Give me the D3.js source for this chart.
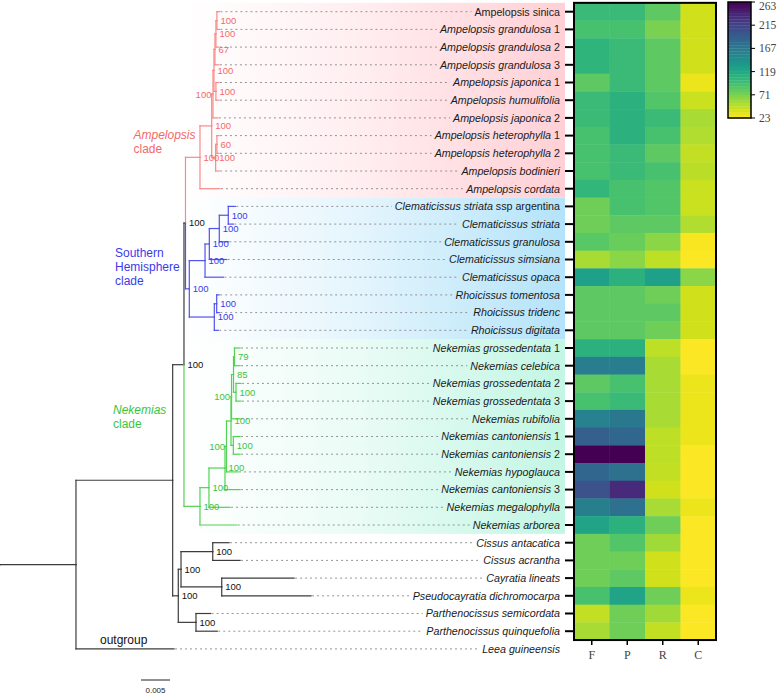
<!DOCTYPE html>
<html><head><meta charset="utf-8">
<script src="https://cdn.jsdelivr.net/npm/d3@7"></script>
<style>body{margin:0;background:#fff}</style>
</head><body>
<svg id="c" width="777" height="694"></svg>
<script>
// ---------------- DATA ----------------
const taxa = [
 "Ampelopsis sinica","Ampelopsis grandulosa 1","Ampelopsis grandulosa 2","Ampelopsis grandulosa 3",
 "Ampelopsis japonica 1","Ampelopsis humulifolia","Ampelopsis japonica 2","Ampelopsis heterophylla 1",
 "Ampelopsis heterophylla 2","Ampelopsis bodinieri","Ampelopsis cordata",
 "Clematicissus striata ssp argentina","Clematicissus striata","Clematicissus granulosa",
 "Clematicissus simsiana","Clematicissus opaca","Rhoicissus tomentosa","Rhoicissus tridenc","Rhoicissus digitata",
 "Nekemias grossedentata 1","Nekemias celebica","Nekemias grossedentata 2","Nekemias grossedentata 3",
 "Nekemias rubifolia","Nekemias cantoniensis 1","Nekemias cantoniensis 2","Nekemias hypoglauca",
 "Nekemias cantoniensis 3","Nekemias megalophylla","Nekemias arborea",
 "Cissus antacatica","Cissus acrantha","Cayratia lineats","Pseudocayratia dichromocarpa",
 "Parthenocissus semicordata","Parthenocissus quinquefolia","Leea guineensis"
];
const plainTaxa = ["Ampelopsis sinica"];
const plainSuffix = ["ssp argentina"];

// tree: branch lengths in substitutions/site, internal labels = bootstrap ("L" = label drawn left of node)
const nwkAmp = "(((((((Ampelopsis sinica:0.00043,Ampelopsis grandulosa 1:0.00043)100:0.00017,Ampelopsis grandulosa 2:0.00052)100:0.00017,Ampelopsis grandulosa 3:0.00069)67:0.00017,(Ampelopsis japonica 1:0.00052,Ampelopsis humulifolia:0.00052)100:0.00034)100:0.00017,Ampelopsis japonica 2:0.00086)100L:0.00022,((Ampelopsis heterophylla 1:0.00035,Ampelopsis heterophylla 2:0.00035)60:0.00022,Ampelopsis bodinieri:0.0006)100:0.00068)100:0.00202,Ampelopsis cordata:0.00345)100:0.0025";
const nwkClem = "((((Clematicissus striata ssp argentina:0.00121,Clematicissus striata:0.00086)100:0.00155,Clematicissus granulosa:0.00155)100:0.00172,Clematicissus simsiana:0.003)100:0.00074,Clematicissus opaca:0.00316)100:0.00271";
const nwkRhoi = "((Rhoicissus tomentosa:0.00043,Rhoicissus tridenc:0.00043)100:0.00041,Rhoicissus digitata:0.00069)100:0.00431";
const nwkNek = "((((((((Nekemias grossedentata 1:0.00095,Nekemias celebica:0.00095)79:0.00017,(Nekemias grossedentata 2:0.00086,Nekemias grossedentata 3:0.00086)100:0.00043)85:0.00034,Nekemias rubifolia:0.00147)100L:0.00009,(Nekemias cantoniensis 1:0.00116,Nekemias cantoniensis 2:0.00116)100:0.0004)100:0.00078,Nekemias hypoglauca:0.00198)100L:0.00026,Nekemias cantoniensis 3:0.00259)100:0.00276,Nekemias megalophylla:0.00362)100:0.00155,Nekemias arborea:0.00633)100:0.00276";
const nwkOther = "(((Cissus antacatica:0.00281,Cissus acrantha:0.00471)100:0.00547,(Cayratia lineats:0.01247,Pseudocayratia dichromocarpa:0.0154)100:0.00702)100:0.00047,(Parthenocissus semicordata:0.00253,Parthenocissus quinquefolia:0.00367)100:0.00305)100:0.00097";
const newick = "(((((" + nwkAmp + ",(" + nwkClem + "," + nwkRhoi + ")100:0.00066)100:0.00026," + nwkNek + ")100:0.00195," + nwkOther + "):0.01667,Leea guineensis:0.0169):0.0131;";

const clades = [
  {key:"amp", first:"Ampelopsis sinica", last:"Ampelopsis cordata"},
  {key:"sh",  first:"Clematicissus striata ssp argentina", last:"Rhoicissus digitata"},
  {key:"nek", first:"Nekemias grossedentata 1", last:"Nekemias arborea"}
];

const heatCols = ["F","P","R","C"];
const valF = [100,93,107,107,83,100,100,93,93,93,105,76,76,85,54,128,83,83,83,110,162,83,93,157,191,263,184,203,160,124,76,76,76,93,45,54];
const valP = [100,93,100,100,100,110,110,110,100,100,93,93,83,78,65,110,83,83,83,110,162,93,100,167,184,263,174,234,174,110,88,76,83,124,76,76];
const valR = [83,71,83,83,83,88,100,93,83,93,88,88,83,65,47,128,76,83,76,47,54,54,54,54,47,47,45,40,54,76,57,40,40,76,57,45];
const valC = [40,40,40,40,30,42,54,52,45,48,42,42,52,25,24,65,40,40,40,24,24,30,30,30,30,24,24,24,30,24,24,24,24,30,24,24];
const colorDomain = [23, 263];
const colorTicks = [263, 215, 167, 119, 71, 23];
const scaleBarValue = 0.005;

// ---------------- STYLE ----------------
const cladeStyle = {
  amp: {line:"#f78a8a", text:"#f26a6a", band:"#ffd0d6"},
  sh:  {line:"#5252ee", text:"#3a3aec", band:"#b4e3f9"},
  nek: {line:"#52d252", text:"#3cc43c", band:"#c3f6e4"}
};
const baseLine = "#3c3c3c", baseText = "#111";
const FONT = "'Liberation Sans', Arial, Helvetica, sans-serif";
const SERIF = "'Liberation Serif', 'Times New Roman', serif";

// ---------------- PARSE ----------------
function parseNewick(s){
  let i = 0;
  function node(){
    const n = {children:[]};
    if (s[i] === '('){
      i++;
      n.children.push(node());
      while (s[i] === ','){ i++; n.children.push(node()); }
      i++;
    }
    let name = '';
    while (i < s.length && !',():;'.includes(s[i])) name += s[i++];
    n.name = name.trim();
    n.length = 0;
    if (s[i] === ':'){
      i++; let l = '';
      while (i < s.length && !',();'.includes(s[i])) l += s[i++];
      n.length = +l;
    }
    return n;
  }
  return node();
}
const root = d3.hierarchy(parseNewick(newick), d => d.children.length ? d.children : null);

// ---------------- SCALES ----------------
const svg = d3.select("#c");
const rowH = 17.7, top0 = 2.85;
const y = d3.scaleBand().domain(taxa).range([top0, top0 + rowH * taxa.length]).padding(0);
const bw = y.bandwidth();
const xs = d3.scaleLinear().domain([0, scaleBarValue]).range([0, 29]);
const labelRight = 560;

root.eachBefore(n => { n.dist = (n.parent ? n.parent.dist : 0) + n.data.length; });
root.eachAfter(n => {
  if (!n.children) n.yy = y(n.data.name) + bw / 2;
  else n.yy = (n.children[0].yy + n.children[n.children.length - 1].yy) / 2;
});
root.each(n => { n.xx = xs(n.dist); n.clade = null; });

const leafMap = new Map(root.leaves().map(l => [l.data.name, l]));
clades.forEach(c => {
  const a = leafMap.get(c.first), b = leafMap.get(c.last);
  const bAnc = new Set(b.ancestors());
  const mrca = a.ancestors().find(n => bAnc.has(n));
  c.node = mrca;
  mrca.each(n => n.clade = c.key);
});
const lineCol = n => n.clade ? cladeStyle[n.clade].line : baseLine;
const textCol = n => n.clade ? cladeStyle[n.clade].text : baseText;

// ---------------- BACKGROUND BANDS ----------------
const defs = svg.append("defs");
const gx0 = 185, gx1 = 565;
clades.forEach(c => {
  const g = defs.append("linearGradient").attr("id", "g_" + c.key)
    .attr("gradientUnits", "userSpaceOnUse").attr("x1", gx0).attr("x2", gx1).attr("y1", 0).attr("y2", 0);
  g.append("stop").attr("offset", 0).attr("stop-color", cladeStyle[c.key].band).attr("stop-opacity", 0);
  g.append("stop").attr("offset", 0.45).attr("stop-color", cladeStyle[c.key].band).attr("stop-opacity", 0.35);
  g.append("stop").attr("offset", 1).attr("stop-color", cladeStyle[c.key].band).attr("stop-opacity", 1);
  const y0 = y(c.first), y1 = y(c.last) + bw;
  svg.append("rect").attr("x", gx0).attr("y", y0).attr("width", gx1 - gx0).attr("height", y1 - y0)
    .attr("fill", "url(#g_" + c.key + ")");
});

// ---------------- TREE ----------------
const gT = svg.append("g").attr("fill", "none").attr("stroke-width", 1.2).attr("stroke-linecap", "square");
gT.append("line").attr("x1", xs(0)).attr("x2", root.xx).attr("y1", root.yy).attr("y2", root.yy).attr("stroke", "#555");
root.descendants().filter(n => n.parent).forEach(n => {
  const p = n.parent, col = lineCol(n);
  gT.append("line").attr("x1", p.xx).attr("x2", p.xx).attr("y1", p.yy).attr("y2", n.yy).attr("stroke", col);
  gT.append("line").attr("x1", p.xx).attr("x2", n.xx).attr("y1", n.yy).attr("y2", n.yy).attr("stroke", col);
});

// support labels
root.descendants().filter(n => n.children && n.data.name).forEach(n => {
  const left = n.data.name.endsWith("L");
  svg.append("text").text(n.data.name.replace("L", ""))
    .attr("x", left ? n.xx - 1.5 : n.xx + 3.5).attr("y", n.yy + 3.4)
    .attr("text-anchor", left ? "end" : "start")
    .attr("font-family", FONT).attr("font-size", 9.5).attr("fill", textCol(n));
});

// leaf labels + dotted connectors
root.leaves().forEach(l => {
  const name = l.data.name;
  const t = svg.append("text").attr("x", labelRight).attr("y", l.yy + 3.8)
    .attr("text-anchor", "end").attr("font-family", FONT).attr("font-size", 10.7).attr("fill", "#1a1a1a");
  if (plainTaxa.includes(name)) {
    t.append("tspan").text(name);
  } else {
    let ital = name, plain = "";
    const suf = plainSuffix.find(s => name.endsWith(" " + s));
    const m = name.match(/^(.*) (\d+)$/);
    if (suf) { ital = name.slice(0, name.length - suf.length - 1); plain = suf; }
    else if (m) { ital = m[1]; plain = m[2]; }
    t.append("tspan").attr("font-style", "italic").text(ital);
    if (plain) t.append("tspan").text("\u00a0" + plain);
  }
  const w = t.node().getComputedTextLength();
  svg.append("line").attr("x1", l.xx + 1).attr("x2", labelRight - w - 3)
    .attr("y1", l.yy).attr("y2", l.yy)
    .attr("stroke", "#8a8a8a").attr("stroke-width", 0.9).attr("stroke-dasharray", "2,3");
});

// clade labels
function cladeLabel(lines, x, yc, col) {
  lines.forEach((ln, i) => {
    svg.append("text").attr("x", x).attr("y", yc + i * 14 + 4.3)
      .attr("font-family", FONT).attr("font-size", 12).attr("fill", col)
      .attr("font-style", ln[1] ? "italic" : "normal").text(ln[0]);
  });
}
cladeLabel([["Ampelopsis", 1], ["clade", 0]], 133.5, 135, cladeStyle.amp.text);
cladeLabel([["Southern", 0], ["Hemisphere", 0], ["clade", 0]], 115, 253, cladeStyle.sh.text);
cladeLabel([["Nekemias", 1], ["clade", 0]], 113, 410, cladeStyle.nek.text);
cladeLabel([["outgroup", 0]], 100, 640, "#111");

// scale bar
const sbx = 141, sby = 680;
svg.append("line").attr("x1", sbx).attr("x2", sbx + xs(scaleBarValue)).attr("y1", sby).attr("y2", sby)
  .attr("stroke", "#222").attr("stroke-width", 1);
svg.append("text").attr("x", sbx + xs(scaleBarValue) / 2).attr("y", sby + 12.5).attr("text-anchor", "middle")
  .attr("font-family", FONT).attr("font-size", 8).attr("fill", "#222").text(String(scaleBarValue));

// ---------------- HEATMAP ----------------
const heatRows = taxa.slice(0, valF.length);
const colVals = {F: valF, P: valP, R: valR, C: valC};
const xh = d3.scaleBand().domain(heatCols).range([574, 716]);
const color = v => d3.interpolateViridis(1 - (v - colorDomain[0]) / (colorDomain[1] - colorDomain[0]));
const gH = svg.append("g");
heatCols.forEach(c => {
  heatRows.forEach((r, i) => {
    gH.append("rect").attr("x", xh(c)).attr("y", y(r)).attr("width", xh.bandwidth() + 0.4).attr("height", bw + 0.4)
      .attr("fill", color(colVals[c][i]));
  });
});
const hy0 = y(heatRows[0]), hy1 = y(heatRows[heatRows.length - 1]) + bw;
gH.append("rect").attr("x", 574).attr("y", hy0).attr("width", 142).attr("height", hy1 - hy0)
  .attr("fill", "none").attr("stroke", "#000").attr("stroke-width", 2);
heatRows.forEach(r => {
  gH.append("line").attr("x1", 565).attr("x2", 574).attr("y1", y(r) + bw / 2).attr("y2", y(r) + bw / 2)
    .attr("stroke", "#000").attr("stroke-width", 2);
});
heatCols.forEach(c => {
  const cx = xh(c) + xh.bandwidth() / 2;
  gH.append("line").attr("x1", cx).attr("x2", cx).attr("y1", hy1).attr("y2", hy1 + 5).attr("stroke", "#000").attr("stroke-width", 1.5);
  gH.append("text").attr("x", cx).attr("y", hy1 + 19).attr("text-anchor", "middle")
    .attr("font-family", SERIF).attr("font-size", 12).attr("fill", "#444").text(c);
});

// ---------------- COLORBAR ----------------
const cbx = 728, cbw = 23;
const yc = d3.scaleLinear().domain(colorDomain).range([118, 2]);
const nSteps = 40;
d3.range(nSteps).forEach(k => {
  const v0 = colorDomain[0] + (colorDomain[1] - colorDomain[0]) * k / nSteps;
  const v1 = colorDomain[0] + (colorDomain[1] - colorDomain[0]) * (k + 1) / nSteps;
  svg.append("rect").attr("x", cbx).attr("y", yc(v1)).attr("width", cbw).attr("height", yc(v0) - yc(v1) + 0.3)
    .attr("fill", color((v0 + v1) / 2));
});
svg.append("rect").attr("x", cbx).attr("y", yc(colorDomain[1])).attr("width", cbw)
  .attr("height", yc(colorDomain[0]) - yc(colorDomain[1])).attr("fill", "none").attr("stroke", "#000").attr("stroke-width", 1.5);
colorTicks.forEach(t => {
  svg.append("line").attr("x1", cbx + cbw).attr("x2", cbx + cbw + 4).attr("y1", yc(t)).attr("y2", yc(t))
    .attr("stroke", "#000").attr("stroke-width", 1);
  svg.append("text").attr("x", cbx + cbw + 8).attr("y", Math.max(yc(t) + 4, 10)).attr("font-family", SERIF)
    .attr("font-size", 11.5).attr("fill", "#444").text(t);
});
</script>
</body></html>
